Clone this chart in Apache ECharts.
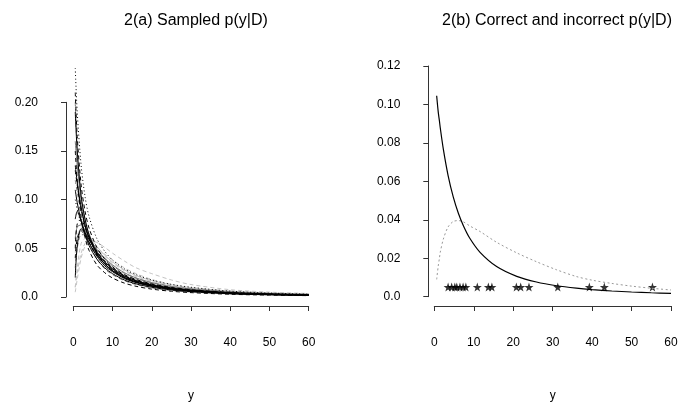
<!DOCTYPE html>
<html>
<head>
<meta charset="utf-8">
<script src="https://cdn.jsdelivr.net/npm/echarts@6/dist/echarts.min.js"></script>
<style>html,body{margin:0;padding:0;background:#fff}#c{width:693px;height:415px}</style>
</head>
<body>
<div id="c"></div>
<script>
// ---------- data ----------
var titleLeft = '2(a) Sampled p(y|D)';
var titleRight = '2(b) Correct and incorrect p(y|D)';
var xName = 'y';
var xTicks = [0, 10, 20, 30, 40, 50, 60];
var leftYTicks = ['0.0', '0.05', '0.10', '0.15', '0.20'];
var rightYTicks = ['0.0', '0.02', '0.04', '0.06', '0.08', '0.10', '0.12'];

// left panel: sampled predictive densities
var leftX = [0.5, 1, 2, 3, 4, 6, 8, 10, 13, 16, 20, 25, 30, 40, 50, 60];
var sH5  = [0.005, 0.018, 0.040, 0.052, 0.055, 0.051, 0.044, 0.038, 0.030, 0.024, 0.0180, 0.0130, 0.0095, 0.0060, 0.0042, 0.0030];
var sH9  = [0.010, 0.030, 0.055, 0.060, 0.058, 0.050, 0.042, 0.035, 0.027, 0.021, 0.0160, 0.0120, 0.0091, 0.0057, 0.0039, 0.0028];
var sH10 = [0.010, 0.025, 0.045, 0.055, 0.058, 0.056, 0.051, 0.045, 0.037, 0.030, 0.024, 0.0175, 0.0128, 0.0075, 0.0050, 0.0036];
var sH8  = [0.045, 0.062, 0.070, 0.068, 0.063, 0.052, 0.043, 0.036, 0.028, 0.022, 0.0168, 0.0125, 0.0096, 0.0061, 0.0042, 0.0031];
var sD6  = [0.120, 0.108, 0.088, 0.073, 0.062, 0.047, 0.037, 0.030, 0.023, 0.018, 0.0137, 0.0101, 0.0078, 0.0050, 0.0034, 0.0025];
var sH4  = [0.030, 0.050, 0.064, 0.064, 0.059, 0.048, 0.039, 0.032, 0.0245, 0.0193, 0.0147, 0.0109, 0.0083, 0.0052, 0.0036, 0.0026];
var sD9  = [0.200, 0.150, 0.098, 0.072, 0.057, 0.039, 0.029, 0.023, 0.0168, 0.0128, 0.0094, 0.0068, 0.0052, 0.0032, 0.0022, 0.0016];
var sD4  = [0.160, 0.135, 0.100, 0.079, 0.065, 0.047, 0.036, 0.029, 0.022, 0.017, 0.0128, 0.0094, 0.0072, 0.0045, 0.0031, 0.0022];
var sH6  = [0.060, 0.072, 0.074, 0.068, 0.061, 0.049, 0.040, 0.033, 0.025, 0.0196, 0.0148, 0.0109, 0.0083, 0.0052, 0.0036, 0.0026];
var sD1  = [0.235, 0.190, 0.135, 0.103, 0.083, 0.060, 0.047, 0.038, 0.029, 0.023, 0.0175, 0.013, 0.010, 0.006, 0.004, 0.003];
var sD2  = [0.210, 0.165, 0.115, 0.088, 0.071, 0.051, 0.039, 0.031, 0.023, 0.018, 0.0135, 0.0098, 0.0075, 0.0047, 0.0032, 0.0023];
var sD3  = [0.190, 0.150, 0.104, 0.080, 0.064, 0.045, 0.034, 0.027, 0.020, 0.0155, 0.0115, 0.0083, 0.0063, 0.0039, 0.0027, 0.0019];
var sD5  = [0.130, 0.115, 0.090, 0.073, 0.061, 0.045, 0.035, 0.028, 0.021, 0.0163, 0.0122, 0.0089, 0.0068, 0.0042, 0.0029, 0.0021];
var sD7  = [0.110, 0.097, 0.078, 0.064, 0.053, 0.039, 0.030, 0.024, 0.0175, 0.0135, 0.0100, 0.0072, 0.0055, 0.0034, 0.0023, 0.0017];
var sD8  = [0.100, 0.090, 0.075, 0.064, 0.055, 0.043, 0.034, 0.028, 0.021, 0.0165, 0.0125, 0.0092, 0.0071, 0.0045, 0.0031, 0.0023];
var sD10 = [0.135, 0.118, 0.092, 0.074, 0.061, 0.044, 0.034, 0.027, 0.020, 0.0153, 0.0113, 0.0082, 0.0062, 0.0038, 0.0026, 0.0019];
var sD11 = [0.150, 0.120, 0.082, 0.061, 0.048, 0.033, 0.025, 0.0195, 0.0143, 0.011, 0.0081, 0.0059, 0.0045, 0.0028, 0.0019, 0.0014];
var sH1  = [0.080, 0.088, 0.078, 0.066, 0.056, 0.042, 0.032, 0.026, 0.019, 0.0148, 0.011, 0.008, 0.0061, 0.0038, 0.0026, 0.0019];
var sH2  = [0.050, 0.075, 0.080, 0.071, 0.062, 0.047, 0.037, 0.030, 0.022, 0.017, 0.0128, 0.0093, 0.0071, 0.0044, 0.0030, 0.0022];
var sH3  = [0.020, 0.052, 0.070, 0.066, 0.059, 0.046, 0.036, 0.029, 0.0215, 0.0166, 0.0124, 0.0090, 0.0068, 0.0042, 0.0029, 0.0021];
var sH7  = [0.040, 0.060, 0.068, 0.063, 0.056, 0.043, 0.034, 0.027, 0.020, 0.0155, 0.0115, 0.0084, 0.0064, 0.0040, 0.0027, 0.0020];

// right panel
var rightX       = [0.6, 1.0, 1.3, 1.5, 2.3, 3.5, 4.8, 6.1, 7.4, 9, 11.6, 15.8, 20.9, 25.9, 31, 36, 40, 45, 50, 55, 60];
var correctDens  = [0.1045, 0.0960, 0.0914, 0.0880, 0.0766, 0.0630, 0.0519, 0.0434, 0.0368, 0.0304, 0.0231, 0.0157, 0.0106, 0.00763, 0.0057, 0.00442, 0.00367, 0.00297, 0.00245, 0.00205, 0.00174];
var wrongDens    = [0.0090, 0.0160, 0.0200, 0.0230, 0.0300, 0.0363, 0.0391, 0.0396, 0.0389, 0.0368, 0.0339, 0.0283, 0.0228, 0.0182, 0.0140, 0.0105, 0.0086, 0.0069, 0.0055, 0.0044, 0.0035];
var obsY   = [3.5, 4.4, 5.2, 5.7, 6.5, 7.3, 8.0, 10.9, 13.7, 14.6, 20.8, 21.9, 24.0, 31.3, 39.3, 43.1, 55.3];
var obsLevel = 0.005;

// ---------- styles (kept separate from data) ----------
var BLACK = '#000', GRAY = '#777', LIGHT = '#c4c4c4';
var DASH = [4, 3], DOT = [1, 2.5], SOLID = 'solid';
var leftSeriesDefs = [
  [sH5, LIGHT, DASH], [sH9, LIGHT, DASH], [sH10, LIGHT, DASH], [sH8, LIGHT, SOLID],
  [sD6, GRAY, DASH], [sH4, GRAY, DASH], [sD9, GRAY, DASH], [sD4, GRAY, SOLID], [sH6, GRAY, SOLID],
  [sD1, BLACK, DOT], [sD2, BLACK, DASH], [sD3, BLACK, SOLID], [sD5, BLACK, DASH], [sD7, BLACK, SOLID],
  [sD8, BLACK, DOT], [sD10, BLACK, SOLID], [sD11, BLACK, DASH], [sH1, BLACK, SOLID], [sH2, BLACK, DASH],
  [sH3, BLACK, SOLID], [sH7, BLACK, DASH]
];

function pairs(xs, ys) { return xs.map(function (x, i) { return [x, ys[i]]; }); }

var FONT = '"Liberation Sans", Arial, Helvetica, sans-serif';
var starPath = 'path://M10 0 L12.35 6.76 L19.51 6.91 L13.8 11.24 L15.88 18.09 L10 14 L4.12 18.09 L6.2 11.24 L0.49 6.91 L7.65 6.76 Z';

function xAxisDef(gi, offset) {
  return {
    type: 'value', gridIndex: gi, min: xTicks[0], max: xTicks[xTicks.length - 1], interval: 10,
    offset: offset, splitLine: { show: false },
    axisLine: { show: true, onZero: false, lineStyle: { color: '#333', width: 1 } },
    axisTick: { show: true, length: 5, lineStyle: { color: '#333' } },
    axisLabel: { margin: 31, color: '#000', fontSize: 12, fontFamily: FONT },
    name: xName, nameLocation: 'middle', nameGap: 84,
    nameTextStyle: { color: '#000', fontSize: 12, fontFamily: FONT }
  };
}
function yAxisDef(gi, offset, max, interval, labels) {
  return {
    type: 'value', gridIndex: gi, min: 0, max: max, interval: interval,
    offset: offset, splitLine: { show: false },
    axisLine: { show: true, onZero: false, lineStyle: { color: '#333', width: 1 } },
    axisTick: { show: true, length: 5, lineStyle: { color: '#333' } },
    axisLabel: { margin: 28, color: '#000', fontSize: 12, fontFamily: FONT,
      formatter: function (v) { return labels[Math.round(v / interval)]; } }
  };
}

var series = leftSeriesDefs.map(function (d) {
  return {
    type: 'line', xAxisIndex: 0, yAxisIndex: 0, data: pairs(leftX, d[0]),
    showSymbol: false, smooth: 0.3, clip: false, silent: true,
    lineStyle: { color: d[1], width: 1, type: d[2] }
  };
});
series.push({
  type: 'line', xAxisIndex: 1, yAxisIndex: 1, data: pairs(rightX, wrongDens),
  showSymbol: false, smooth: 0.3, silent: true,
  lineStyle: { color: '#999', width: 1, type: [2, 2.5] }
});
series.push({
  type: 'line', xAxisIndex: 1, yAxisIndex: 1, data: pairs(rightX, correctDens),
  showSymbol: false, smooth: 0.3, silent: true,
  lineStyle: { color: '#000', width: 1.2 }
});
series.push({
  type: 'scatter', xAxisIndex: 1, yAxisIndex: 1,
  data: obsY.map(function (v) { return [v, obsLevel]; }),
  symbol: starPath, symbolSize: 9, silent: true,
  itemStyle: { color: '#000' }
});

var chart = echarts.init(document.getElementById('c'), null, { renderer: 'canvas' });
chart.setOption({
  animation: false,
  backgroundColor: '#fff',
  title: [
    { text: titleLeft, left: 191, top: 8, textAlign: 'center',
      textStyle: { fontSize: 16, fontWeight: 'normal', color: '#000', fontFamily: FONT } },
    { text: titleRight, left: 552, top: 8, textAlign: 'center',
      textStyle: { fontSize: 16, fontWeight: 'normal', color: '#000', fontFamily: FONT } }
  ],
  grid: [
    { left: 73.3, top: 102.3, width: 235.4, height: 194.7 },
    { left: 434.3, top: 66, width: 236.7, height: 230.7 }
  ],
  xAxis: [xAxisDef(0, 9), xAxisDef(1, 9.3)],
  yAxis: [yAxisDef(0, 7.3, 0.20, 0.05, leftYTicks), yAxisDef(1, 6, 0.12, 0.02, rightYTicks)],
  series: series
});
</script>
</body>
</html>
